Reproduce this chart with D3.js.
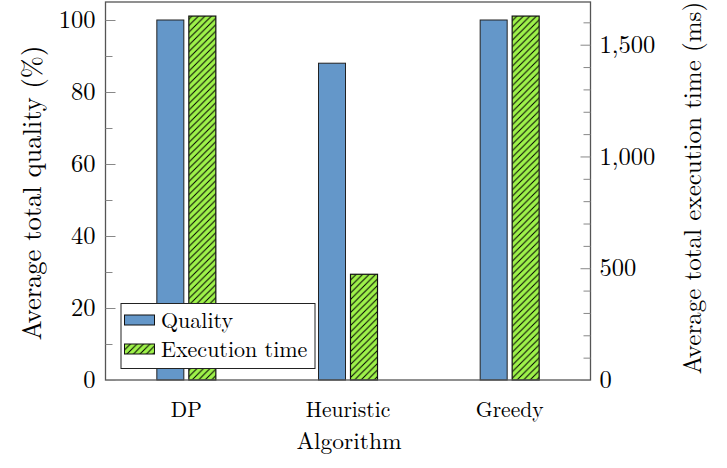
<!DOCTYPE html>
<html>
<head>
<meta charset="utf-8">
<script src="https://cdn.jsdelivr.net/npm/d3@7"></script>
</head>
<body style="margin:0;background:#fff">
<svg id="chart" width="727" height="468"></svg>
<script>
// Algorithms compared
const categories = ["DP", "Heuristic", "Greedy"];
// Average total quality (%)
const qualityValues = [100, 88, 100];
// Average total execution time (ms)
const timeValues = [1628, 473, 1628];
// Axis tick labels
const qualityTicks = [0, 20, 40, 60, 80, 100];
const timeTicks = [0, 500, 1000, 1500];

const LM = '"Latin Modern Roman"';

const svg = d3.select("#chart");
const plot = { left: 105.5, right: 590.5, top: 2, bottom: 380 };

const x = d3.scaleBand().domain(categories).range([plot.left, plot.right]).padding(0);
const yQ = d3.scaleLinear().domain([0, 105]).range([plot.bottom, plot.top]);
const yT = d3.scaleLinear().domain([0, 1691]).range([plot.bottom, plot.top]);

const blue = "#6497c9";
const green = "#9ef24a";
const barW = 27, gap = 5;

// Diagonal hatch for execution-time bars
const defs = svg.append("defs");
const pat = defs.append("pattern")
  .attr("id", "hatch")
  .attr("patternUnits", "userSpaceOnUse")
  .attr("width", 6.5).attr("height", 6.5);
pat.append("rect").attr("width", 6.5).attr("height", 6.5).attr("fill", green);
pat.append("path")
  .attr("d", "M0,6.5 L6.5,0 M-1,1 L1,-1 M5.5,7.5 L7.5,5.5")
  .attr("stroke", "#000").attr("stroke-width", 1);

// Quality bars
svg.append("g").selectAll("rect").data(categories).join("rect")
  .attr("x", (d) => x(d) + x.bandwidth() / 2 - gap / 2 - barW)
  .attr("y", (d, i) => yQ(qualityValues[i]))
  .attr("width", barW)
  .attr("height", (d, i) => yQ(0) - yQ(qualityValues[i]))
  .attr("fill", blue)
  .attr("stroke", "#222").attr("stroke-width", 1);

// Execution-time bars
svg.append("g").selectAll("rect").data(categories).join("rect")
  .attr("x", (d) => x(d) + x.bandwidth() / 2 + gap / 2)
  .attr("y", (d, i) => yT(timeValues[i]))
  .attr("width", barW)
  .attr("height", (d, i) => yT(0) - yT(timeValues[i]))
  .attr("fill", "url(#hatch)")
  .attr("stroke", "#111").attr("stroke-width", 1.2);

// Frame
svg.append("rect")
  .attr("x", plot.left).attr("y", plot.top)
  .attr("width", plot.right - plot.left).attr("height", plot.bottom - plot.top)
  .attr("fill", "none").attr("stroke", "#555").attr("stroke-width", 1.3);

// Left axis (quality), ticks pointing inward
const leftAxis = d3.axisRight(yQ).tickValues(qualityTicks).tickSize(10).tickFormat("");
const leftMinor = d3.axisRight(yQ).tickValues(d3.range(10, 100, 20)).tickSize(7).tickFormat("");
[leftAxis, leftMinor].forEach((ax) => {
  const g = svg.append("g").attr("transform", `translate(${plot.left},0)`).call(ax);
  g.select(".domain").remove();
  g.selectAll("line").attr("stroke", "#888").attr("stroke-width", 1);
});
svg.append("g").selectAll("text").data(qualityTicks).join("text")
  .attr("x", 95.5).attr("y", (d) => yQ(d)).attr("dy", "0.33em")
  .attr("text-anchor", "end").attr("font-size", 24.5)
  .style("font-family", LM)
  .text((d) => d3.format(",")(d));

// Right axis (execution time), ticks pointing inward
const rightAxis = d3.axisLeft(yT).tickValues(timeTicks).tickSize(10).tickFormat("");
const rightMinor = d3.axisLeft(yT)
  .tickValues(d3.range(100, 1700, 100).filter((v) => v % 500 !== 0)).tickSize(7).tickFormat("");
[rightAxis, rightMinor].forEach((ax) => {
  const g = svg.append("g").attr("transform", `translate(${plot.right},0)`).call(ax);
  g.select(".domain").remove();
  g.selectAll("line").attr("stroke", "#888").attr("stroke-width", 1);
});
svg.append("g").selectAll("text").data(timeTicks).join("text")
  .attr("x", 599.5).attr("y", (d) => yT(d)).attr("dy", "0.33em")
  .attr("text-anchor", "start").attr("font-size", 24.5)
  .style("font-family", LM)
  .text((d) => d3.format(",")(d));

// Category labels
svg.append("g").selectAll("text").data(categories).join("text")
  .attr("x", (d) => x(d) + x.bandwidth() / 2).attr("y", 417)
  .attr("text-anchor", "middle").attr("font-size", 21.5)
  .style("font-family", LM)
  .text((d) => d);

// Axis titles
svg.append("text").attr("x", 349).attr("y", 449)
  .attr("text-anchor", "middle").attr("font-size", 23.5)
  .style("font-family", LM).text("Algorithm");
svg.append("text")
  .attr("transform", "translate(41,193) rotate(-90)")
  .attr("text-anchor", "middle").attr("font-size", 26.5)
  .style("font-family", LM)
  .text("Average total quality (%)");
svg.append("text")
  .attr("transform", "translate(701,188) rotate(-90)")
  .attr("text-anchor", "middle").attr("font-size", 25)
  .style("font-family", LM)
  .text("Average total execution time (ms)");

// Legend
const legend = svg.append("g");
legend.append("rect").attr("x", 121).attr("y", 303.5).attr("width", 194).attr("height", 65)
  .attr("fill", "#fff").attr("stroke", "#222").attr("stroke-width", 1);
const legendItems = [
  { label: "Quality", fill: blue },
  { label: "Execution time", fill: "url(#hatch)" }
];
legendItems.forEach((it, i) => {
  const cy = 320 + i * 29;
  legend.append("rect").attr("x", 124.5).attr("y", cy - 5).attr("width", 30).attr("height", 10)
    .attr("fill", it.fill).attr("stroke", "#111").attr("stroke-width", 1);
  legend.append("text").attr("x", 161).attr("y", cy + 7.5)
    .attr("font-size", 22).style("font-family", LM).text(it.label);
});
</script>
</body>
</html>
